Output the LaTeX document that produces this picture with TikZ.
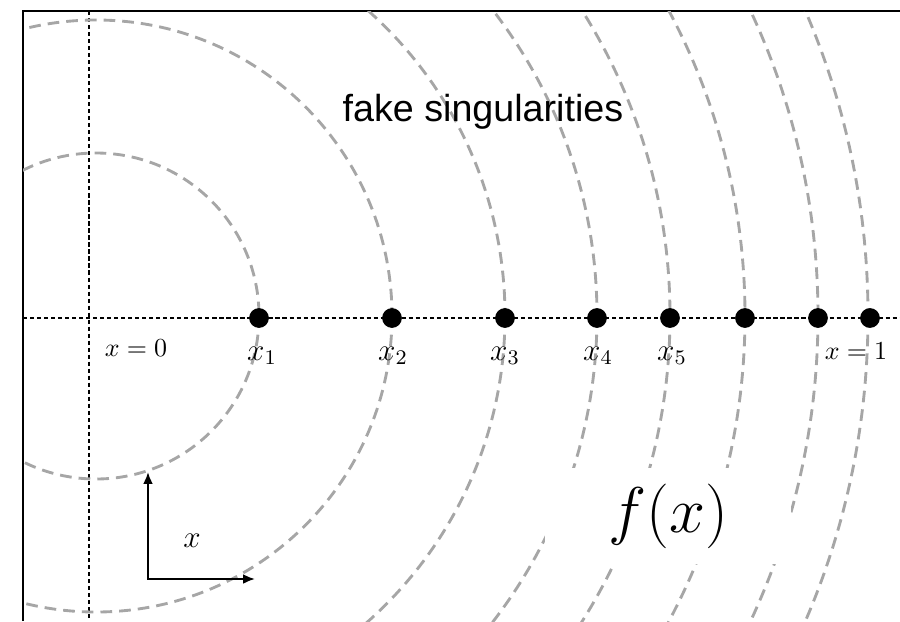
\documentclass[tikz,border=0pt]{standalone}
\usepackage{amsmath}
\usepackage{fontspec}
\newfontfamily\labelfont{Liberation Sans}
\usepackage{tikz}
\usetikzlibrary{arrows.meta,positioning}

\begin{document}
\begin{tikzpicture}[x=0.385pt, y=-0.385pt, >={Latex[length=4.6pt,width=3.8pt]},
  dot/.style={circle, fill=black, inner sep=0pt, minimum size=7.6pt},
  ring/.style={line width=1.1pt, black!35, dash pattern=on 4.5pt off 2.7pt},
  guide/.style={line width=0.8pt, dash pattern=on 1.6pt off 1.1pt},
  lbl/.style={inner sep=0pt, anchor=base}]
  \useasboundingbox (0,0) rectangle (900,621);
  % frame and the two dotted guides
  \draw[line width=0.8pt] (23,621) -- (23,11) -- (900,11);
  \draw[guide] (89,11) -- (89,621);
  \draw[guide] (23,318) -- (900,318);
  % circles round the origin
  \coordinate (O) at (96,316);
  \begin{scope}
    \clip (23,11) rectangle (900,621);
    \foreach \r in {163,296,409,501,574,649,722,772}
      \draw[ring] (O) circle[radius=\r];
  \end{scope}
  % points on the line
  \foreach \name/\xx in {p1/259,p2/392,p3/505,p4/597,p5/670,p6/745,p7/818,p8/870}
    \node[dot] (\name) at (\xx,318) {};
  \foreach \i/\xx in {1/262,2/393,3/505,4/598,5/672}
    \node[lbl, font=\large] (l\i) at (\xx,360) {$x_\i$};
  \node[lbl] (zero) at (136,356) {$x=0$};
  \node[lbl] (one) at (856,359) {$x=1$};
  \node[lbl, font=\labelfont\fontsize{14.5}{17}\selectfont] (title) at (483,121) {fake singularities};
  % small axes
  \coordinate (ax) at (148,579);
  \coordinate (axup) at (148,472);
  \coordinate (axright) at (255,579);
  \draw[<->, line width=0.8pt] (axup) |- (axright);
  \node[font=\fontsize{12.5}{15}\selectfont] (xlab) at (192,541) {$x$};
  \node[fill=white, minimum width=95pt, minimum height=37pt,
    font=\fontsize{25}{30}\selectfont] (fx) at (668,516) {$f(x)$};
\end{tikzpicture}
\end{document}
